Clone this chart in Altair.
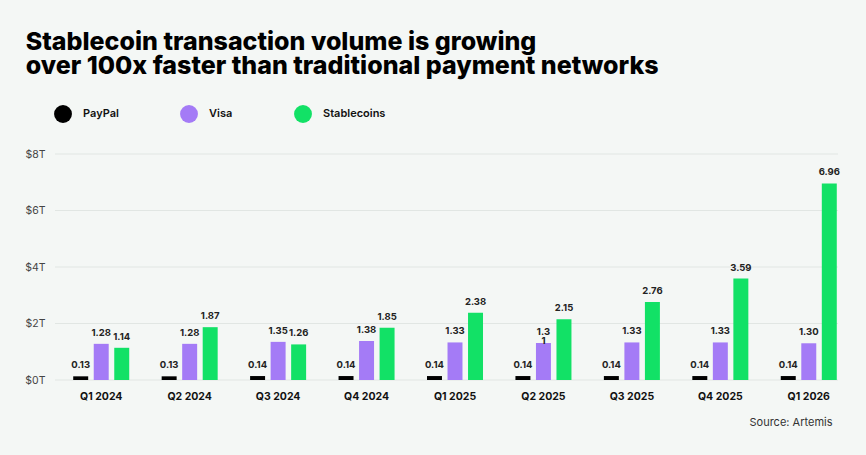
import altair as alt
import pandas as pd

quarters = ["Q1 2024", "Q2 2024", "Q3 2024", "Q4 2024", "Q1 2025",
            "Q2 2025", "Q3 2025", "Q4 2025", "Q1 2026"]
series = ["PayPal", "Visa", "Stablecoins"]
paypal = [0.13, 0.13, 0.14, 0.14, 0.14, 0.14, 0.14, 0.14, 0.14]
visa = [1.28, 1.28, 1.35, 1.38, 1.33, 1.31, 1.33, 1.33, 1.30]
stable = [1.14, 1.87, 1.26, 1.85, 2.38, 2.15, 2.76, 3.59, 6.96]
paypal_labels = ["0.13", "0.13", "0.14", "0.14", "0.14", "0.14", "0.14", "0.14", "0.14"]
visa_labels = ["1.28", "1.28", "1.35", "1.38", "1.33", "1.3\n1", "1.33", "1.33", "1.30"]
stable_labels = ["1.14", "1.87", "1.26", "1.85", "2.38", "2.15", "2.76", "3.59", "6.96"]
colors = ["#000000", "#a47bf6", "#12e166"]
y_ticks = [0, 2, 4, 6, 8]

rows = []
for name, vals, labs in zip(series, [paypal, visa, stable],
                            [paypal_labels, visa_labels, stable_labels]):
    for q, v, l in zip(quarters, vals, labs):
        rows.append({"quarter": q, "series": name, "value": v, "label": l})
df = pd.DataFrame(rows)
grid_df = pd.DataFrame({"tick": y_ticks})

FONT = "Inter"

x_enc = alt.X("quarter:N", sort=quarters,
              scale=alt.Scale(paddingInner=0, paddingOuter=0),
              axis=alt.Axis(title="Source: Artemis", labelFont=FONT, labelFontSize=10.5,
                            labelFontWeight=700, labelColor="#111", labelPadding=11,
                            ticks=False, domain=False, labelAngle=0,
                            titleFont=FONT, titleFontSize=11, titleFontWeight=400,
                            titleColor="#333", titleAnchor="end", titleAlign="right",
                            titleX=775, titleY=42, titleBaseline="middle"))
xoff_enc = alt.XOffset("series:N", sort=series,
                       scale=alt.Scale(paddingInner=0.27, paddingOuter=0.79))
y_scale = alt.Scale(domain=[0, 8], nice=False)
y_axis = alt.Axis(title=None, values=y_ticks, labelExpr="'$' + datum.value + 'T'",
                  labelFont=FONT, labelFontSize=10.5, labelColor="#444",
                  labelPadding=12, ticks=False, domain=False, grid=False)

grid = alt.Chart(grid_df).mark_rule(color="#e1e6e3", strokeWidth=1).encode(
    y=alt.Y("tick:Q", scale=y_scale, axis=y_axis),
    x=alt.value(-2), x2=alt.value(781),
)

bars = alt.Chart(df).mark_bar().encode(
    x=x_enc,
    xOffset=xoff_enc,
    y=alt.Y("value:Q", scale=y_scale, axis=y_axis),
    color=alt.Color("series:N", sort=series,
                    scale=alt.Scale(domain=series, range=colors),
                    legend=alt.Legend(orient="none", legendX=-3, legendY=-49,
                                      direction="horizontal", title=None,
                                      symbolType="circle", symbolSize=320,
                                      symbolStrokeWidth=0, labelFont=FONT,
                                      labelFontSize=11, labelFontWeight=600,
                                      labelColor="#111", columnPadding=61,
                                      labelOffset=11)),
)

texts = alt.Chart(df).mark_text(
    font=FONT, fontSize=9.5, fontWeight=700, color="#222",
    baseline="bottom", dy=-6, lineBreak="\n", lineHeight=9,
).encode(
    x=x_enc,
    xOffset=xoff_enc,
    y=alt.Y("value:Q", scale=y_scale, axis=y_axis),
    text="label:N",
)

chart = alt.layer(grid, bars, texts).properties(
    width=796, height=226,
    autosize=alt.AutoSizeParams(type="none"),
    padding={"left": 57, "top": 154, "right": 13, "bottom": 75},
    background="#f4f7f5",
    title=alt.TitleParams(
        text=["Stablecoin transaction volume is growing",
              "over 100x faster than traditional payment networks"],
        anchor="start", font=FONT, fontSize=25, fontWeight=800, color="#000",
        lineHeight=24.5, dx=1, offset=26),
).configure_view(stroke=None)

chart.save("out.html", embed_options={"renderer": "svg", "actions": False})
